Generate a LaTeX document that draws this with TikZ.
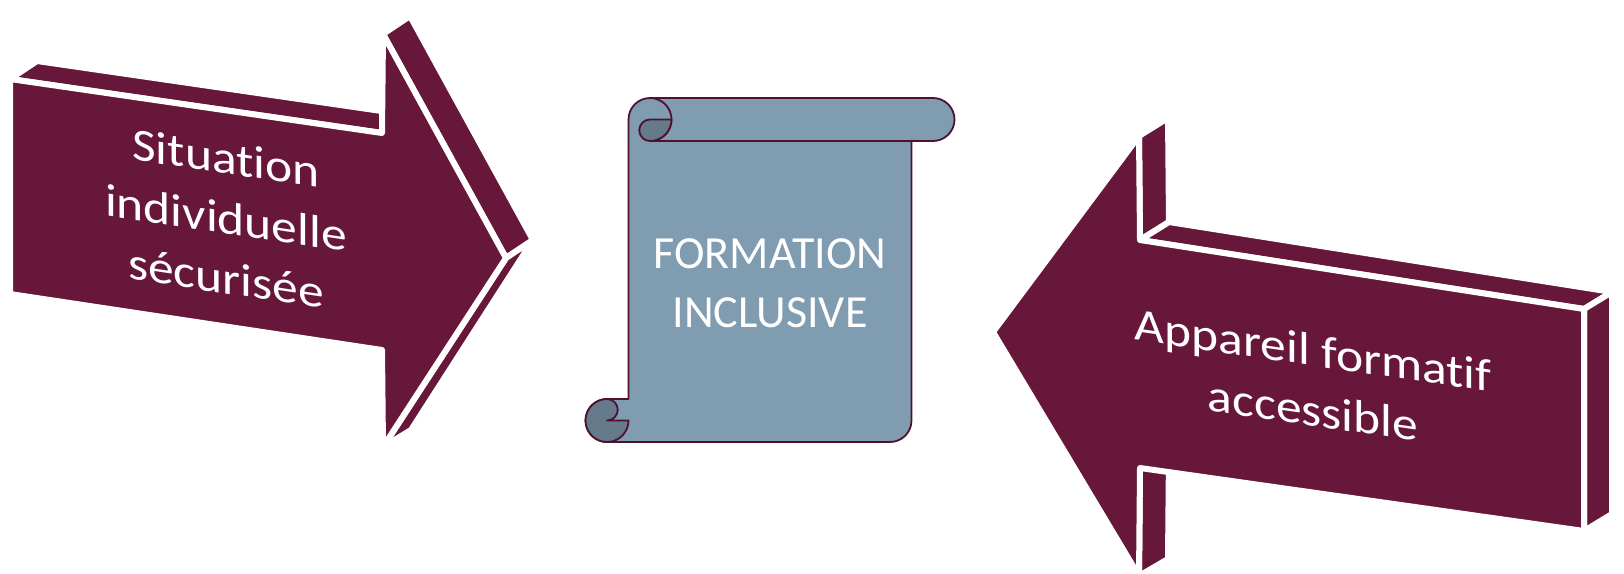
\documentclass[tikz,border=0pt]{standalone}
\usepackage{fontspec}
\setmainfont{Carlito}[Ligatures=NoCommon]
\definecolor{maroon}{RGB}{103,23,58}
\definecolor{scrollblue}{RGB}{127,156,176}
\definecolor{scrolldark}{RGB}{101,122,138}
\definecolor{scrollline}{RGB}{80,17,49}
\tikzset{
  face/.style={fill=maroon, draw=white, line width=6pt, line join=round},
  scrollpart/.style={draw=scrollline, line width=1.8pt, line join=round},
  lbl/.style={text=white, align=center, inner sep=0pt},
  slanted/.style={yslant=#1, xscale=1.12, font=\fontsize{46}{60}\selectfont}
}
\begin{document}
\begin{tikzpicture}[x=1pt,y=-1pt]
\useasboundingbox (0,0) rectangle (1624,573);
\draw[face] (10,79)--(382,133)--(409,115)--(37,61)--cycle;
\draw[face] (383,34)--(506,258)--(533,240)--(410,16)--cycle;
\draw[face] (506,258)--(383,447)--(411,430)--(533,240)--cycle;
\draw[face] (10,79)--(382,133)--(383,34)--(506,258)--(383,447)--(382,350)--(10,294)--cycle;
\node[lbl, slanted=-0.15] (situation) at (226,218) {Situation\\individuelle\\sécurisée};
\draw[face] (1139,136)--(1140,240)--(1169,222)--(1168,118)--cycle;
\draw[face] (1140,240)--(1584,309)--(1612,292)--(1169,222)--cycle;
\draw[face] (1584,309)--(1584,531)--(1612,514)--(1612,292)--cycle;
\draw[face] (1140,468)--(1139,576)--(1168,559)--(1169,451)--cycle;
\draw[face] (993,332)--(1139,136)--(1140,240)--(1584,309)--(1584,531)--(1140,468)--(1139,576)--cycle;
\node[lbl, slanted=-0.146] (appareil) at (1313,380) {Appareil formatif\\accessible};
\draw[scrollpart, fill=scrollblue] (650,98)--(933,98) arc[start angle=-90,end angle=90,radius=21.5]
  --(911.5,141)--(911.5,420.5) arc[start angle=0,end angle=90,radius=21.5]
  --(607,442) arc[start angle=90,end angle=270,radius=21.5]
  --(628.5,399)--(628.5,119.5) arc[start angle=180,end angle=270,radius=21.5]--cycle;
\draw[scrollpart] (650,98) arc[start angle=-90,end angle=90,radius=21.5]--(911.5,141);
\draw[scrollpart, fill=scrolldark] (650,141) arc[start angle=90,end angle=270,radius=10.75]
  --(671.5,119.5) arc[start angle=0,end angle=90,radius=21.5]--cycle;
\draw[scrollpart, fill=scrolldark] (607,399) arc[start angle=-90,end angle=-360,radius=21.5]
  --(607,420.5) arc[start angle=90,end angle=-90,radius=10.75]--cycle;
\node[lbl, font=\fontsize{46}{59}\selectfont] (formation) at (770,283) {FORMATION\\INCLUSIVE};
\end{tikzpicture}
\end{document}
